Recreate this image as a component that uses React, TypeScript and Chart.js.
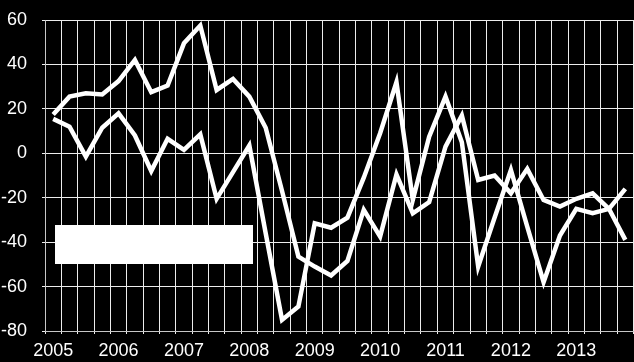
import React, { useEffect, useRef } from "react";
import { Chart, registerables } from "chart.js";

Chart.register(...registerables);

const years = ["2005", "2006", "2007", "2008", "2009", "2010", "2011", "2012", "2013"];
const quarters = ["Q1", "Q2", "Q3", "Q4"];
const categories: string[] = years.flatMap((y) => quarters.map((q) => `${y} ${q}`));
const tickLabels: string[] = years.flatMap((y) => [y, "", "", ""]);

const seriesA = [
  17.5, 25.5, 27, 26.5,
  32.5, 42, 27.5, 30.5,
  49.5, 57.5, 28.5, 33.5,
  25.5, 11.5, -17, -46.5,
  -51, -55, -48.5, -25.5,
  -37.5, -9.5, -27, -22,
  3, 17, -12, -10,
  -18, -7, -21, -24,
  -20.5, -18, -25, -39,
];

const seriesB = [
  15.5, 12, -1.5, 11.5,
  18, 8, -8, 6.5,
  1.5, 8.5, -20.5, -8.5,
  3.5, -36, -75, -69,
  -31.5, -33.5, -29, -11,
  9, 32, -21, 7.5,
  25.5, 5, -51, -29,
  -7.5, -33, -58, -37,
  -25, -27, -25, -16,
];

const yMin = -80;
const yMax = 60;
const yStep = 20;

const bgPlugin = {
  id: "bgAndBox",
  beforeDraw(chart: any) {
    const { ctx, width, height } = chart;
    ctx.save();
    ctx.fillStyle = "#000000";
    ctx.fillRect(0, 0, width, height);
    ctx.restore();
  },
  afterDraw(chart: any) {
    const { ctx } = chart;
    ctx.save();
    ctx.fillStyle = "#ffffff";
    ctx.fillRect(55, 225, 198, 39);
    ctx.restore();
  },
};

export default function App() {
  const ref = useRef<HTMLCanvasElement | null>(null);

  useEffect(() => {
    document.body.style.margin = "0";
    document.body.style.background = "#000";
    const canvas = ref.current;
    if (!canvas) return;
    const font = { family: "'Liberation Sans', Arial, sans-serif", size: 18 };
    const chart = new Chart(canvas, {
      type: "line",
      data: {
        labels: categories,
        datasets: [
          {
            data: seriesA,
            borderColor: "#ffffff",
            borderWidth: 4.5,
            pointRadius: 0,
            tension: 0,
            fill: false,
          },
          {
            data: seriesB,
            borderColor: "#ffffff",
            borderWidth: 4.5,
            pointRadius: 0,
            tension: 0,
            fill: false,
          },
        ],
      },
      options: {
        animation: false,
        responsive: false,
        maintainAspectRatio: false,
        layout: { padding: { top: 20, right: 0.5, left: 0, bottom: 0 } },
        plugins: { legend: { display: false }, tooltip: { enabled: false } },
        scales: {
          x: {
            type: "category",
            offset: true,
            grid: {
              offset: true,
              color: "#ececec",
              lineWidth: 1,
              tickLength: 3,
              drawTicks: true,
            },
            border: { color: "#c8c8c8", width: 1 },
            ticks: {
              color: "#ffffff",
              font,
              autoSkip: false,
              maxRotation: 0,
              minRotation: 0,
              padding: 6,
              callback: (_v: any, i: number) => tickLabels[i],
            },
            afterFit: (scale: any) => {
              scale.height = 31;
              scale.paddingLeft = 0;
              scale.paddingRight = 0;
            },
          },
          y: {
            min: yMin,
            max: yMax,
            grid: { color: "#ececec", lineWidth: 1, tickLength: 3 },
            border: { color: "#c8c8c8", width: 1 },
            ticks: {
              stepSize: yStep,
              color: "#ffffff",
              font,
              padding: 15,
            },
            afterFit: (scale: any) => {
              scale.width = 45;
              scale.paddingTop = 0;
              scale.paddingBottom = 0;
            },
          },
        },
      },
      plugins: [bgPlugin],
    });
    return () => chart.destroy();
  }, []);

  return (
    <div style={{ width: 634, height: 362, background: "#000" }}>
      <canvas ref={ref} width={634} height={362} style={{ display: "block" }} />
    </div>
  );
}
